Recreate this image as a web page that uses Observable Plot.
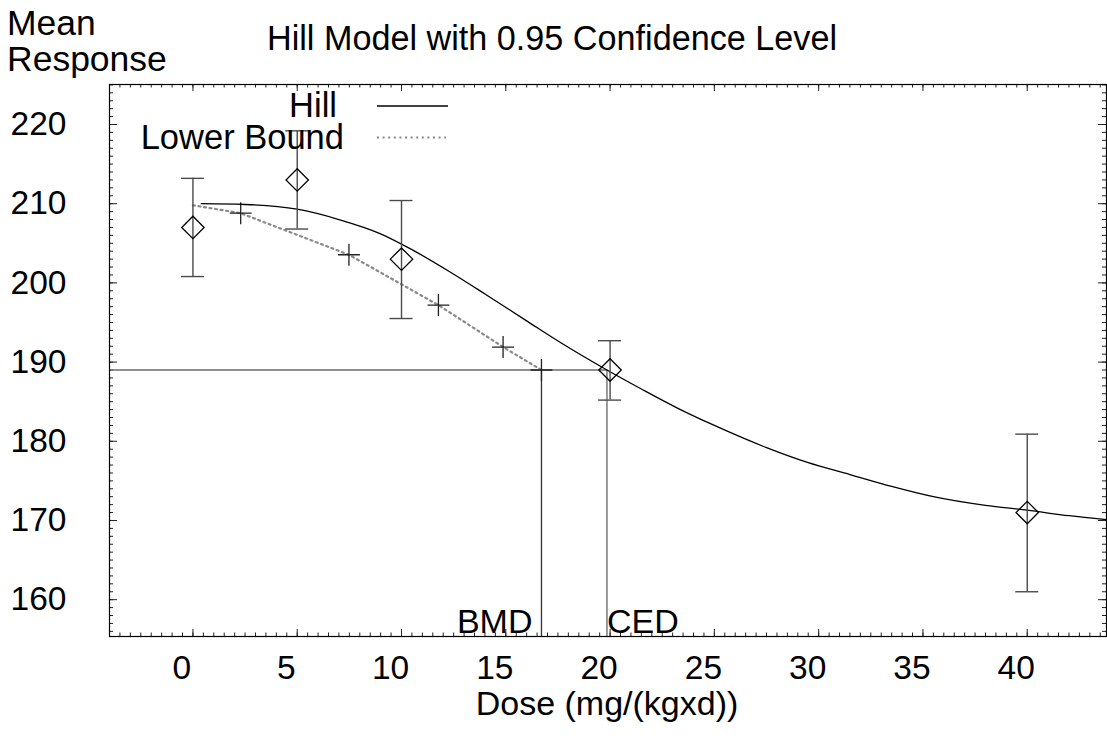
<!DOCTYPE html>
<html>
<head>
<meta charset="utf-8">
<script src="https://cdn.jsdelivr.net/npm/d3@7"></script>
<script src="https://cdn.jsdelivr.net/npm/@observablehq/plot@0.6"></script>
<style>
  html, body { margin: 0; padding: 0; background: #fff; }
  #wrap { position: relative; width: 1107px; height: 740px; font-family: "Liberation Sans", Arial, sans-serif; }
  #wrap > svg { position: absolute; left: 0; top: 0; }
  #overlay { pointer-events: none; }
</style>
</head>
<body>
<div id="wrap"></div>
<script>
// ---- Data ----
const doses      = [0, 5, 10, 20, 40];
const meanResp   = [207.0, 213.0, 203.0, 189.0, 171.0];
const lowerCI    = [200.8, 206.8, 195.5, 185.2, 161.0];
const upperCI    = [213.2, 219.2, 210.4, 192.7, 180.9];

const hillDose = [0.4, 2.5, 5, 7, 9, 10.5, 12.25, 14, 16, 17.6, 19.85, 21.5, 23.3, 25, 27.5, 29.5, 31.5, 33.5, 35.5, 38, 40, 42, 43.8];
const hillResp = [210.0, 209.9, 209.3, 208.0, 206.2, 204.2, 201.5, 198.6, 195.2, 192.5, 189.0, 186.6, 184.1, 182.0, 179.2, 177.3, 175.8, 174.3, 173.0, 171.9, 171.3, 170.6, 170.1];

const lbDose = [0, 2.29, 7.48, 11.77, 14.87, 16.71];
const lbResp = [209.8, 208.8, 203.55, 197.2, 191.9, 189.0];
const lbMarkerDose = [2.29, 7.48, 11.77, 14.87, 16.71];
const lbMarkerResp = [208.8, 203.55, 197.2, 191.9, 189.0];

const bmrLevel = 189.0;
const bmdl = 16.71;
const ced = 19.85;
const markerNames = ["BMD", "CED"];

const xTicks = [0, 5, 10, 15, 20, 25, 30, 35, 40];
const yTicks = [160, 170, 180, 190, 200, 210, 220];
const xDomain = [-4, 43.8];
const yDomain = [155.35, 225.05];

const titleText = "Hill Model with 0.95 Confidence Level";
const yLabelLines = ["Mean", "Response"];
const xLabelText = "Dose (mg/(kgxd))";
const legendNames = ["Hill", "Lower Bound"];

// ---- Build tables ----
const obs = doses.map((d, i) => ({dose: d, mean: meanResp[i], lo: lowerCI[i], hi: upperCI[i]}));
const hill = hillDose.map((d, i) => ({dose: d, resp: hillResp[i]}));
const lb = lbDose.map((d, i) => ({dose: d, resp: lbResp[i]}));
const lbMarks = lbMarkerDose.map((d, i) => ({dose: d, resp: lbMarkerResp[i]}));

const W = 1107, H = 740;
const mL = 109, mR = 1, mT = 84, mB = 104;
const frameH = H - mT - mB;

const xMinor = d3.range(-4, 44, 0.5);
const yMinor = d3.range(156, 226, 1);

const tickColor = "#222";

const chart = Plot.plot({
  width: W,
  height: H,
  marginLeft: mL,
  marginRight: mR,
  marginTop: mT,
  marginBottom: mB,
  style: {fontFamily: "'Liberation Sans', Arial, sans-serif", fontSize: "33px", color: "#000", background: "#fff"},
  x: {domain: xDomain, label: null},
  y: {domain: yDomain, label: null},
  marks: [
    // minor & major ticks, inward on all four sides
    Plot.tickX(xMinor, {x: d => d, insetTop: frameH - 3.5, stroke: tickColor}),
    Plot.tickX(xMinor, {x: d => d, insetBottom: frameH - 3.5, stroke: tickColor}),
    Plot.tickX(xTicks, {x: d => d, insetTop: frameH - 7, stroke: tickColor}),
    Plot.tickX(xTicks, {x: d => d, insetBottom: frameH - 7, stroke: tickColor}),
    Plot.tickY(yMinor, {y: d => d, insetRight: (W - mL - mR) - 4, stroke: tickColor}),
    Plot.tickY(yMinor, {y: d => d, insetLeft: (W - mL - mR) - 4, stroke: tickColor}),
    Plot.tickY(yTicks, {y: d => d, insetRight: (W - mL - mR) - 8, stroke: tickColor}),
    Plot.tickY(yTicks, {y: d => d, insetLeft: (W - mL - mR) - 8, stroke: tickColor}),
    // axis labels
    Plot.axisX(xTicks, {anchor: "bottom", tickSize: 0, tickPadding: 19, dx: -11, fontSize: 33.5, label: null}),
    Plot.axisY(yTicks, {anchor: "left", tickSize: 0, tickPadding: 43, fontSize: 33.5, label: null}),
    // BMR horizontal and vertical lines
    Plot.ruleY([bmrLevel], {y: d => d, x1: xDomain[0], x2: ced, stroke: "#6a6a6a", strokeWidth: 1.6}),
    Plot.ruleX([bmdl], {x: d => d, y1: bmrLevel, y2: yDomain[0], stroke: "#333", strokeWidth: 1.3}),
    Plot.ruleX([ced], {x: d => d, y1: bmrLevel, y2: yDomain[0], stroke: "#666", strokeWidth: 1.3}),
    Plot.text([bmdl], {x: d => d, frameAnchor: "bottom", text: () => markerNames[0], textAnchor: "end", lineAnchor: "bottom", dx: -9, dy: -4, fontSize: 34, fill: "#000"}),
    Plot.text([ced], {x: d => d, frameAnchor: "bottom", text: () => markerNames[1], textAnchor: "start", lineAnchor: "bottom", dx: 0, dy: -4, fontSize: 34, fill: "#000"}),
    // lower bound dotted curve
    Plot.line(lb, {x: "dose", y: "resp", stroke: "#8a8a8a", strokeWidth: 2.2, strokeDasharray: "2 3.6", curve: "linear"}),
    Plot.dot(lbMarks, {x: "dose", y: "resp", symbol: "plus", r: 7.1, stroke: "#222", strokeWidth: 1.3}),
    // Hill curve
    Plot.line(hill, {x: "dose", y: "resp", stroke: "#000", strokeWidth: 1.3, curve: "monotone-x"}),
    // error bars
    Plot.ruleX(obs, {x: "dose", y1: "lo", y2: "hi", stroke: "#4a4a4a", strokeWidth: 1.4}),
    Plot.ruleY(obs, {y: "hi", x1: "dose", x2: "dose", insetLeft: -11.5, insetRight: -11.5, stroke: "#4a4a4a", strokeWidth: 1.4}),
    Plot.ruleY(obs, {y: "lo", x1: "dose", x2: "dose", insetLeft: -11.5, insetRight: -11.5, stroke: "#4a4a4a", strokeWidth: 1.4}),
    // means
    Plot.dot(obs, {x: "dose", y: "mean", symbol: "diamond2", r: 10.1, stroke: "#000", strokeWidth: 1.3, fill: "none"}),
    Plot.frame({stroke: "#000", strokeWidth: 1.2})
  ]
});

const wrap = document.getElementById("wrap");
wrap.appendChild(chart);

// overlay with title, axis titles, legend
const ov = d3.select(wrap).append("svg")
  .attr("id", "overlay")
  .attr("width", W).attr("height", H)
  .style("font-family", "'Liberation Sans', Arial, sans-serif");

ov.append("text").attr("x", 552).attr("y", 50).attr("text-anchor", "middle")
  .attr("font-size", 34.2).text(titleText);
ov.append("text").attr("x", 7).attr("y", 35).attr("font-size", 35.5).text(yLabelLines[0]);
ov.append("text").attr("x", 7).attr("y", 71).attr("font-size", 35.5).text(yLabelLines[1]);
ov.append("text").attr("x", 607).attr("y", 715).attr("text-anchor", "middle")
  .attr("font-size", 34).text(xLabelText);

// legend
ov.append("text").attr("x", 337).attr("y", 117).attr("text-anchor", "end").attr("font-size", 34.5).text(legendNames[0]);
ov.append("line").attr("x1", 377).attr("x2", 448).attr("y1", 106).attr("y2", 106)
  .attr("stroke", "#000").attr("stroke-width", 1.3);
ov.append("text").attr("x", 344).attr("y", 149).attr("text-anchor", "end").attr("font-size", 34.5).text(legendNames[1]);
ov.append("line").attr("x1", 377).attr("x2", 446).attr("y1", 137.5).attr("y2", 137.5)
  .attr("stroke", "#8a8a8a").attr("stroke-width", 2.2).attr("stroke-dasharray", "2 3.6");
</script>
</body>
</html>
